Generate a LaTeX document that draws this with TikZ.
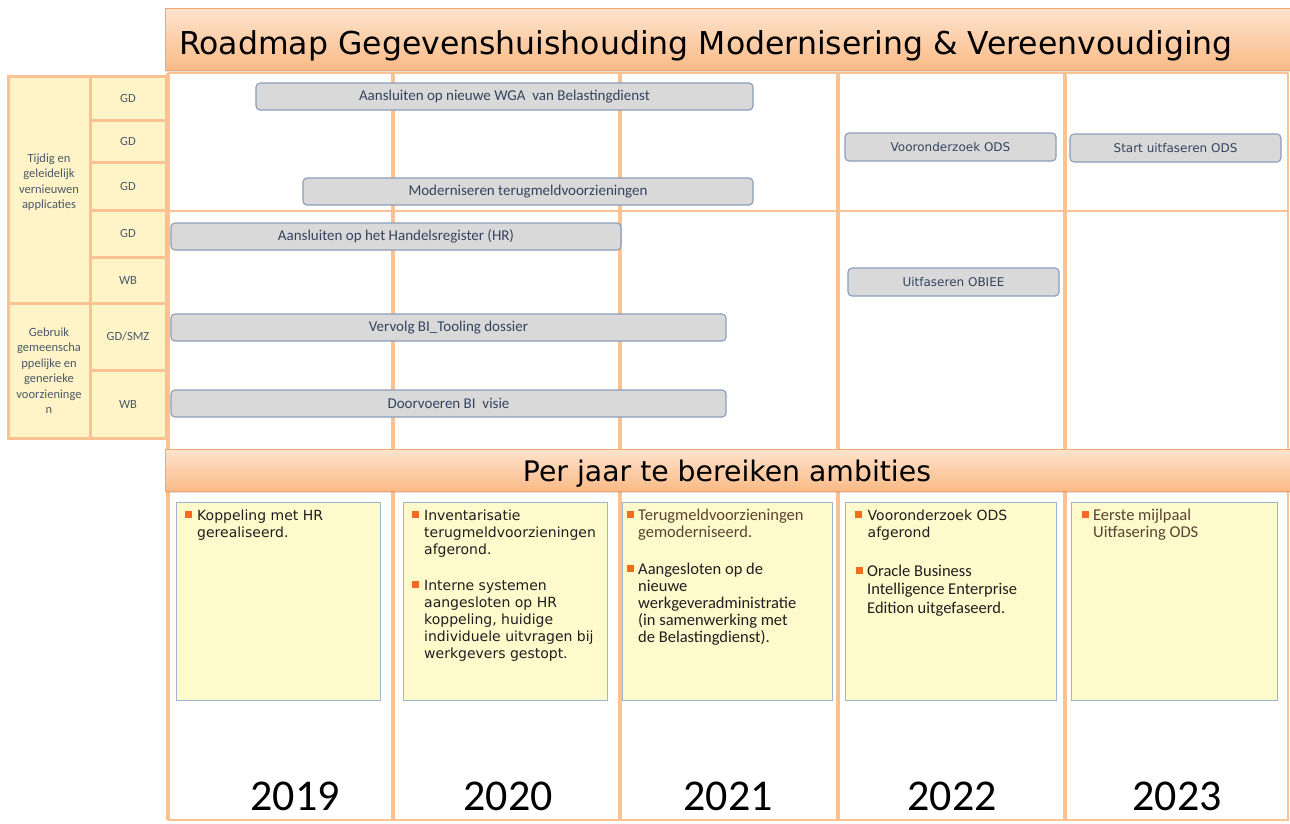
\documentclass[tikz,border=0pt]{standalone}
\usepackage{fontspec}
\setmainfont{DejaVu Sans}
\newfontfamily\calfont{Carlito}
\usetikzlibrary{shadows}
\definecolor{gridc}{HTML}{FAC191}
\definecolor{cellfill}{HTML}{FFF4C7}
\definecolor{boxfill}{HTML}{FEFACC}
\definecolor{boxline}{HTML}{9FB4CF}
\definecolor{barfill}{HTML}{D9D9D9}
\definecolor{barline}{HTML}{8A9DBA}
\definecolor{bartext}{HTML}{34445E}
\definecolor{lbltext}{HTML}{4A5868}
\definecolor{bulc}{HTML}{F26B1F}
\definecolor{hdtop}{HTML}{FDE4CE}
\definecolor{hdbot}{HTML}{FABA86}
\definecolor{hdline}{HTML}{F4A76A}
\definecolor{txtc}{HTML}{1E1E1E}
\definecolor{browntxt}{HTML}{5A4330}
\newcommand\bulA{\makebox[12.5pt][l]{\textcolor{bulc}{\rule[2.5pt]{7pt}{7pt}}}}
\newcommand\indA{\hspace*{12.5pt}}
\newcommand\bulB{\makebox[11pt][l]{\textcolor{bulc}{\rule[2.5pt]{6.5pt}{6.5pt}}}}
\newcommand\indB{\hspace*{11pt}}
\tikzset{
  header/.style={draw=hdline, line width=0.8pt, top color=hdtop, bottom color=hdbot,
     minimum width=1125pt, inner sep=0pt,
     drop shadow={opacity=0.25, shadow xshift=1pt, shadow yshift=-2pt}},
  gridline/.style={draw=gridc},
  bar/.style={draw=barline, line width=1.1pt, fill=barfill, rounded corners=4pt,
     minimum height=27pt, inner sep=0pt, text=bartext, font=\calfont\fontsize{15}{18}\selectfont},
  barv/.style={bar, minimum height=28pt, minimum width=211pt, font=\fontsize{12}{14}\selectfont},
  cell/.style={draw=gridc, line width=3pt, fill=cellfill, inner sep=0pt, text=lbltext,
     font=\calfont\fontsize{12.5}{15.5}\selectfont, align=center},
  lbl/.style={inner sep=0pt, text=lbltext, font=\calfont\fontsize{12.5}{15.5}\selectfont, align=center},
  ybox/.style={draw=boxline, line width=0.9pt, fill=boxfill, minimum height=198pt, inner sep=0pt},
  ptA/.style={anchor=north west, inner sep=0pt, align=left, text=txtc, font=\fontsize{14}{17}\selectfont},
  ptB/.style={anchor=north west, inner sep=0pt, align=left, text=txtc, font=\calfont\fontsize{16.5}{17}\selectfont},
  yr/.style={anchor=base, inner sep=0pt, text=black, font=\calfont\fontsize{44}{46}\selectfont}
}
\begin{document}
\begin{tikzpicture}[x=1pt,y=-1pt]
\useasboundingbox (0,0) rectangle (1290,823);
\fill[white] (0,0) rectangle (1290,823);

% grid
\coordinate (gtl) at (168,73);
\coordinate (gtr) at (1288,73);
\coordinate (gbl) at (168,820);
\coordinate (gbr) at (1288,820);
\coordinate (hl) at (168,211);
\coordinate (hr) at (1288,211);
\draw[gridline, line width=1.5pt] (gtl) -- (gtr);
\draw[gridline, line width=2pt] (hl) -- (hr);
\draw[gridline, line width=2.5pt] (gtr) -- (gbr) -- (gbl);
\draw[gridline, line width=4pt] (gtl) -- (gbl);
\foreach \x/\n in {393/a,620/b,838/c,1065/d}{
  \coordinate (vt\n) at (\x,72);
  \coordinate (vb\n) at (\x,820);
  \draw[gridline, line width=4pt] (vt\n) -- (vb\n);
}

% headers
\node[header, minimum height=62pt] (title) at (727.5,39) {};
\node[anchor=base west, inner sep=0pt, text=black, font=\fontsize{31.5}{36}\selectfont]
  (titletext) at (179,54) {Roadmap Gegevenshuishouding Modernisering \& Vereenvoudiging};
\node[header, minimum height=42pt] (amb) at (727.5,470) {};
\node[anchor=base, inner sep=0pt, text=black, font=\fontsize{28.3}{32}\selectfont]
  (ambtext) at (727,481) {Per jaar te bereiken ambities};

% left table
\node[cell, minimum width=82pt, minimum height=227pt] (g1) at (49,189.5) {};
\node[lbl] (g1t) at (49,182) {Tijdig en\\geleidelijk\\vernieuwen\\applicaties};
\node[cell, minimum width=82pt, minimum height=135pt] (g2) at (49,370.5)
  {Gebruik\\gemeenscha\\ppelijke en\\generieke\\voorzieninge\\n};
\node[cell, minimum width=76pt, minimum height=44pt] (r1) at (128,98) {GD};
\node[cell, minimum width=76pt, minimum height=42pt] (r2) at (128,141) {GD};
\node[cell, minimum width=76pt, minimum height=48pt] (r3) at (128,186) {GD};
\node[cell, minimum width=76pt, minimum height=47pt] (r4) at (128,233.5) {GD};
\node[cell, minimum width=76pt, minimum height=46pt] (r5) at (128,280) {WB};
\node[cell, minimum width=76pt, minimum height=67pt] (r6) at (128,336.5) {GD/SMZ};
\node[cell, minimum width=76pt, minimum height=68pt] (r7) at (128,404) {WB};

% bars
\node[bar, minimum width=497pt] (b1) at (504.5,96.5) {Aansluiten op nieuwe WGA~~van Belastingdienst};
\node[bar, minimum width=450pt] (b2) at (528,191.5) {Moderniseren terugmeldvoorzieningen};
\node[bar, minimum width=450pt] (b3) at (396,236.5) {Aansluiten op het Handelsregister (HR)\hspace{30pt}};
\node[barv] (b4) at (950.5,147) {Vooronderzoek ODS};
\node[barv] (b5) at (1175.5,148) {Start uitfaseren ODS};
\node[barv] (b6) at (953.5,282) {Uitfaseren OBIEE};
\node[bar, minimum width=555pt] (b7) at (448.5,327.5) {Vervolg BI\_Tooling dossier};
\node[bar, minimum width=555pt] (b8) at (448.5,403.5) {Doorvoeren BI~~visie};

% yearly boxes
\node[ybox, minimum width=204pt] (y1) at (278,601) {};
\node[ybox, minimum width=204pt] (y2) at (505,601) {};
\node[ybox, minimum width=210pt] (y3) at (727,601) {};
\node[ybox, minimum width=211pt] (y4) at (950.5,601) {};
\node[ybox, minimum width=206pt] (y5) at (1174,601) {};

\node[ptA] (p1) at (184.5,509.4) {\bulA Koppeling met HR\\\indA gerealiseerd.};
\node[ptA] (p2a) at (411.5,509.8) {\bulA Inventarisatie\\\indA terugmeldvoorzieningen\\\indA afgerond.};
\node[ptA] (p2b) at (411.5,579.8) {\bulA Interne systemen\\\indA aangesloten op HR\\\indA koppeling, huidige\\\indA individuele uitvragen bij\\\indA werkgevers gestopt.};
\node[ptB, text=browntxt] (p3a) at (627,508.5) {\bulB Terugmeldvoorzieningen\\\indB gemoderniseerd.};
\node[ptB] (p3b) at (627,562.5) {\bulB Aangesloten op de\\\indB nieuwe\\\indB werkgeveradministratie\\\indB (in samenwerking met\\\indB de Belastingdienst).};
\node[ptA] (p4a) at (855,509.4) {\bulA Vooronderzoek ODS\\\indA afgerond};
\node[ptB, font=\calfont\fontsize{16.5}{18.5}\selectfont] (p4b) at (856,564.5) {\bulB Oracle Business\\\indB Intelligence Enterprise\\\indB Edition uitgefaseerd.};
\node[ptB, text=browntxt] (p5) at (1082,508.5) {\bulB Eerste mijlpaal\\\indB Uitfasering ODS};

% years
\node[yr] (yr1) at (295,810) {2019};
\node[yr] (yr2) at (508,810) {2020};
\node[yr] (yr3) at (728,810) {2021};
\node[yr] (yr4) at (952,810) {2022};
\node[yr] (yr5) at (1177,810) {2023};
\end{tikzpicture}
\end{document}
